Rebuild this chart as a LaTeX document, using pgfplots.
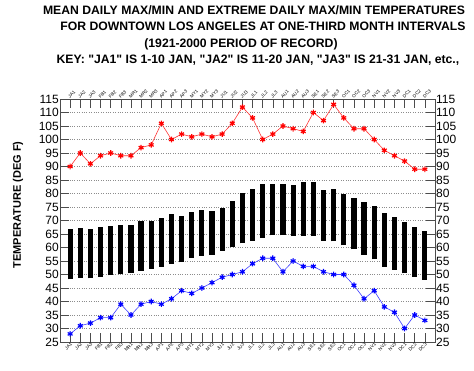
\documentclass[border=0pt]{standalone}
\usepackage{pgfplots}
\pgfplotsset{compat=1.18}
\usepackage{fontspec}
\setmainfont{Liberation Sans}
\begin{document}
\begin{tikzpicture}[x=1pt,y=1pt]
\useasboundingbox (-60,-29) rectangle (414,342);
\pgfplotsset{
  common/.style={
    at={(0,0)}, anchor=south west,
    scale only axis, width=375pt, height=243pt,
    xmin=-1, xmax=36, ymin=25, ymax=115,
    xtick={0,...,35},
    xticklabels={JA1,JA2,JA3,FB1,FB2,FB3,MR1,MR2,MR3,AP1,AP2,AP3,MY1,MY2,MY3,JU1,JU2,JU3,JL1,JL2,JL3,AU1,AU2,AU3,SE1,SE2,SE3,OC1,OC2,OC3,NV1,NV2,NV3,DC1,DC2,DC3},
    ytick={25,30,...,115},
    /pgf/number format/assume math mode=true,
    tick label style={font=\fontsize{12}{12}\selectfont},
    major tick length=9pt,
  }
}
\begin{axis}[common,
  axis line style={draw=black!70, line width=0.8pt},
  tick style={black!70, line width=0.6pt},
  ymajorgrids, grid style={black!45, dotted, line width=0.5pt},
  xticklabel style={font=\fontsize{4.6}{4.6}\selectfont, rotate=45, anchor=north east, inner sep=0.3pt},
  yticklabel style={inner sep=1pt},
]
% mean daily min to mean daily max bars
\addplot[black, line width=5.2pt, line cap=butt, mark=none] table[row sep=\\, empty line=jump] {
x y\\
0 48.2\\ 0 66.7\\ \\
1 48.8\\ 1 67.3\\ \\
2 48.6\\ 2 67.0\\ \\
3 49.2\\ 3 67.7\\ \\
4 49.7\\ 4 67.9\\ \\
5 50.0\\ 5 68.4\\ \\
6 50.5\\ 6 68.2\\ \\
7 51.4\\ 7 69.8\\ \\
8 52.1\\ 8 69.7\\ \\
9 52.9\\ 9 70.9\\ \\
10 53.8\\ 10 72.3\\ \\
11 54.5\\ 11 71.8\\ \\
12 56.2\\ 12 73.3\\ \\
13 57.0\\ 13 73.9\\ \\
14 57.4\\ 14 73.5\\ \\
15 58.8\\ 15 74.6\\ \\
16 60.1\\ 16 77.3\\ \\
17 61.5\\ 17 80.1\\ \\
18 62.4\\ 18 81.5\\ \\
19 63.6\\ 19 83.4\\ \\
20 64.5\\ 20 83.5\\ \\
21 64.5\\ 21 83.5\\ \\
22 64.2\\ 22 83.2\\ \\
23 64.2\\ 23 84.1\\ \\
24 64.2\\ 24 84.1\\ \\
25 62.5\\ 25 81.3\\ \\
26 62.3\\ 26 81.7\\ \\
27 60.8\\ 27 79.8\\ \\
28 59.3\\ 28 78.2\\ \\
29 57.4\\ 29 76.7\\ \\
30 55.6\\ 30 75.5\\ \\
31 52.9\\ 31 72.7\\ \\
32 51.7\\ 32 71.4\\ \\
33 50.4\\ 33 69.4\\ \\
34 49.2\\ 34 67.7\\ \\
35 48.0\\ 35 66.2\\
};
% extreme daily max
\addplot[red!80!white, line width=0.6pt, mark=asterisk, mark size=2.8pt,
  mark options={red, line width=1.2pt}] coordinates {
(0,90)(1,95)(2,91)(3,94)(4,95)(5,94)(6,94)(7,97)(8,98)(9,106)(10,100)(11,102)
(12,101)(13,102)(14,101)(15,102)(16,106)(17,112)(18,108)(19,100)(20,102)(21,105)
(22,104)(23,103)(24,110)(25,107)(26,113)(27,108)(28,104)(29,104)(30,100)(31,96)
(32,94)(33,92)(34,89)(35,89)};
% extreme daily min
\addplot[blue!75!white, line width=0.6pt, mark=asterisk, mark size=2.8pt,
  mark options={blue, line width=1.2pt}] coordinates {
(0,28)(1,31)(2,32)(3,34)(4,34)(5,39)(6,35)(7,39)(8,40)(9,39)(10,41)(11,44)
(12,43)(13,45)(14,47)(15,49)(16,50)(17,51)(18,54)(19,56)(20,56)(21,51)
(22,55)(23,53)(24,53)(25,51)(26,50)(27,50)(28,46)(29,41)(30,44)(31,38)
(32,36)(33,30)(34,35)(35,33)};
\end{axis}
\begin{axis}[common,
  axis line style={draw=none}, tick style={draw=none},
  xticklabel pos=upper, yticklabel pos=right,
  xticklabel style={font=\fontsize{4.6}{4.6}\selectfont, rotate=45, anchor=south west, inner sep=0.3pt},
  yticklabel style={inner sep=1pt},
]
\addplot[draw=none] coordinates {(0,50)};
\end{axis}
\node[font=\bfseries\fontsize{12.2}{12.2}\selectfont] at (194,332) {MEAN DAILY MAX/MIN AND EXTREME DAILY MAX/MIN TEMPERATURES};
\node[font=\bfseries\fontsize{12.2}{12.2}\selectfont] at (203,315.5) {FOR DOWNTOWN LOS ANGELES AT ONE-THIRD MONTH INTERVALS};
\node[font=\bfseries\fontsize{12.2}{12.2}\selectfont] at (181,298) {(1921-2000 PERIOD OF RECORD)};
\node[font=\bfseries\fontsize{12.2}{12.2}\selectfont] at (198,282) {KEY: \textquotedbl JA1\textquotedbl{} IS 1-10 JAN, \textquotedbl JA2\textquotedbl{} IS 11-20 JAN, \textquotedbl JA3\textquotedbl{} IS 21-31 JAN, etc.,};
\node[font=\bfseries\fontsize{11}{11}\selectfont, rotate=90] at (-42,137) {TEMPERATURE (DEG F)};
\end{tikzpicture}
\end{document}
